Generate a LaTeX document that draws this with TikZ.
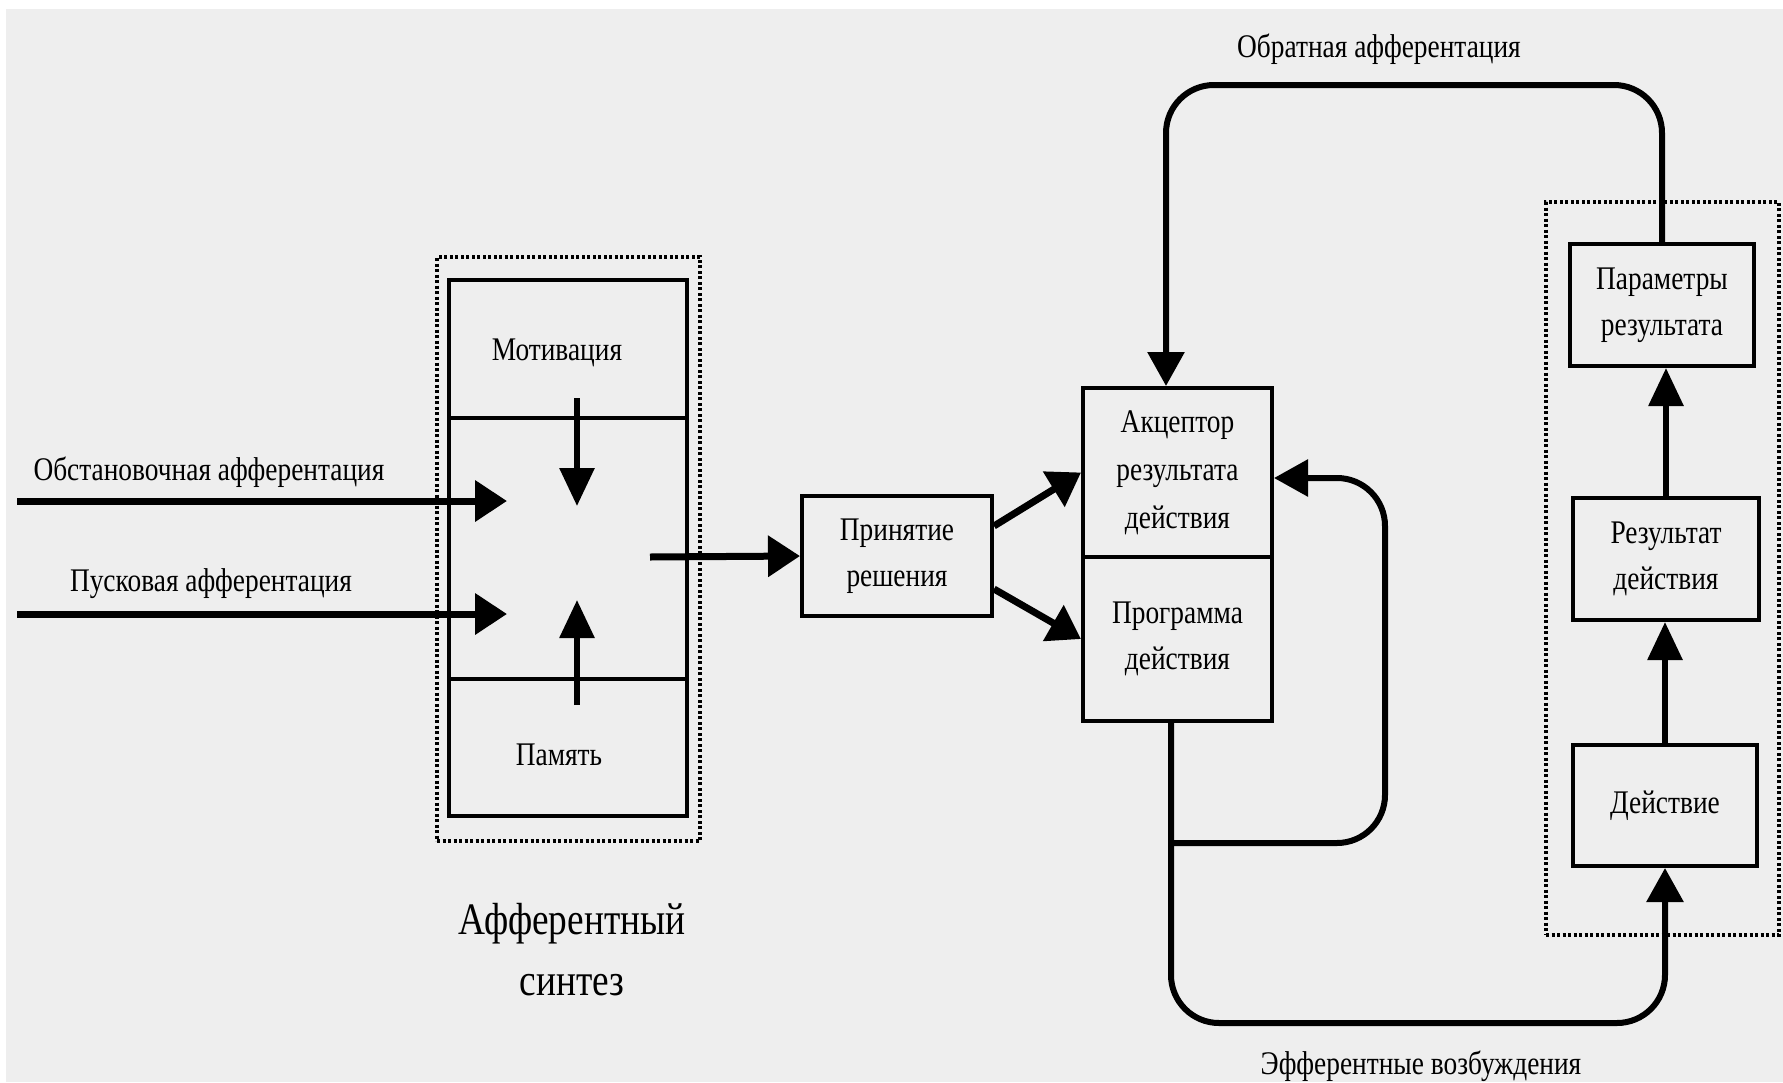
\documentclass[tikz,border=0pt]{standalone}
\usepackage{fontspec}
\setmainfont{Liberation Serif}
\newfontfamily\cf[FakeStretch=0.83]{Liberation Serif}
\usetikzlibrary{arrows.meta}
\definecolor{bgc}{HTML}{EEEEEE}
\begin{document}
\begin{tikzpicture}[x=1pt,y=-1pt,
  lbl/.style={font=\cf\fontsize{33}{46}\selectfont, inner sep=0pt, align=center},
  box/.style={draw, line width=4pt, inner sep=0pt, align=center, font=\cf\fontsize{33}{46}\selectfont},
  dotbox/.style={draw, line width=4pt, dash pattern=on 3pt off 2.5pt, inner sep=0pt},
  arr/.style={line width=7pt, -{Triangle[length=32pt,width=40pt]}},
  varr/.style={line width=6pt, -{Triangle[length=38pt,width=34pt]}},
  loop/.style={line width=6pt, rounded corners=48pt, -{Triangle[length=34pt,width=36pt]}}]
\useasboundingbox (0,0) rectangle (1783,1082);
\fill[white] (0,0) rectangle (1783,1082);
\fill[bgc] (6,9) rectangle (1783,1082);

% afferent synthesis block
\node[dotbox, minimum width=263pt, minimum height=584pt] (afs) at (568.5,549) {};
\node[box, minimum width=238pt, minimum height=138pt] (mot) at (568,349) {};
\node[box, minimum width=238pt, minimum height=261pt] (mid) at (568,548.5) {};
\node[box, minimum width=238pt, minimum height=137pt] (mem) at (568,747.5) {};
\node[lbl] (motT) at (557,353) {Мотивация};
\node[lbl] (memT) at (559,755) {Память};
\coordinate (mA) at (577,398);
\coordinate (mB) at (577,506);
\coordinate (pA) at (577,705);
\coordinate (pB) at (577,600);
\draw[varr] (mA) -- (mB);
\draw[varr] (pA) -- (pB);

% inputs
\coordinate (in1) at (17,501);
\coordinate (in1e) at (507,501);
\coordinate (in2) at (17,614);
\coordinate (in2e) at (507,614);
\draw[arr] (in1) -- (in1e);
\draw[arr] (in2) -- (in2e);
\node[lbl] (l1) at (209,472) {Обстановочная афферентация};
\node[lbl] (l2) at (211,584) {Пусковая афферентация};
\node[lbl, font=\cf\fontsize{45}{61}\selectfont] (l3) at (572,950) {Афферентный\\синтез};

% decision
\node[box, minimum width=190pt, minimum height=120pt] (dec) at (897,556) {Принятие\\решения};
\coordinate (out) at (650,557);
\draw[arr] (out) -- (dec.west);

% acceptor / program
\node[box, minimum width=189pt, minimum height=169pt, font=\cf\fontsize{33}{48}\selectfont] (acc) at (1177.5,472.5) {Акцептор\\результата\\действия};
\node[box, minimum width=189pt, minimum height=164pt] (prog) at (1177.5,639) {Программа\\действия};
\draw[arr] ([yshift=30pt]dec.east) -- (acc.west);
\draw[arr] ([yshift=-33pt]dec.east) -- (prog.west);

% right column
\node[dotbox, minimum width=233pt, minimum height=733pt] (rbox) at (1662.5,568.5) {};
\node[box, minimum width=184pt, minimum height=122pt] (par) at (1662,305) {Параметры\\результата};
\node[box, minimum width=186pt, minimum height=122pt] (res) at (1666,559) {Результат\\действия};
\node[box, minimum width=184pt, minimum height=121pt] (act) at (1665,805.5) {Действие};
\draw[varr] (res.north) -- (res.north |- par.south);
\draw[varr] (act.north) -- (act.north |- res.south);

% feedback loops
\coordinate (fb) at (1166,85);
\draw[loop] (par.north) |- (fb) -- (fb |- acc.north);
\node[lbl] (l4) at (1379,49) {Обратная афферентация};

\coordinate (eff) at (1171,1023);
\draw[loop] (prog.south -| eff) -- (eff) -| (act.south);
\node[lbl] (l5) at (1421,1066) {Эфферентные возбуждения};

\coordinate (br) at (1171,843);
\coordinate (brc) at (1385,478);
\draw[loop] (br) -| (brc) -- (acc.east |- brc);
\end{tikzpicture}
\end{document}
